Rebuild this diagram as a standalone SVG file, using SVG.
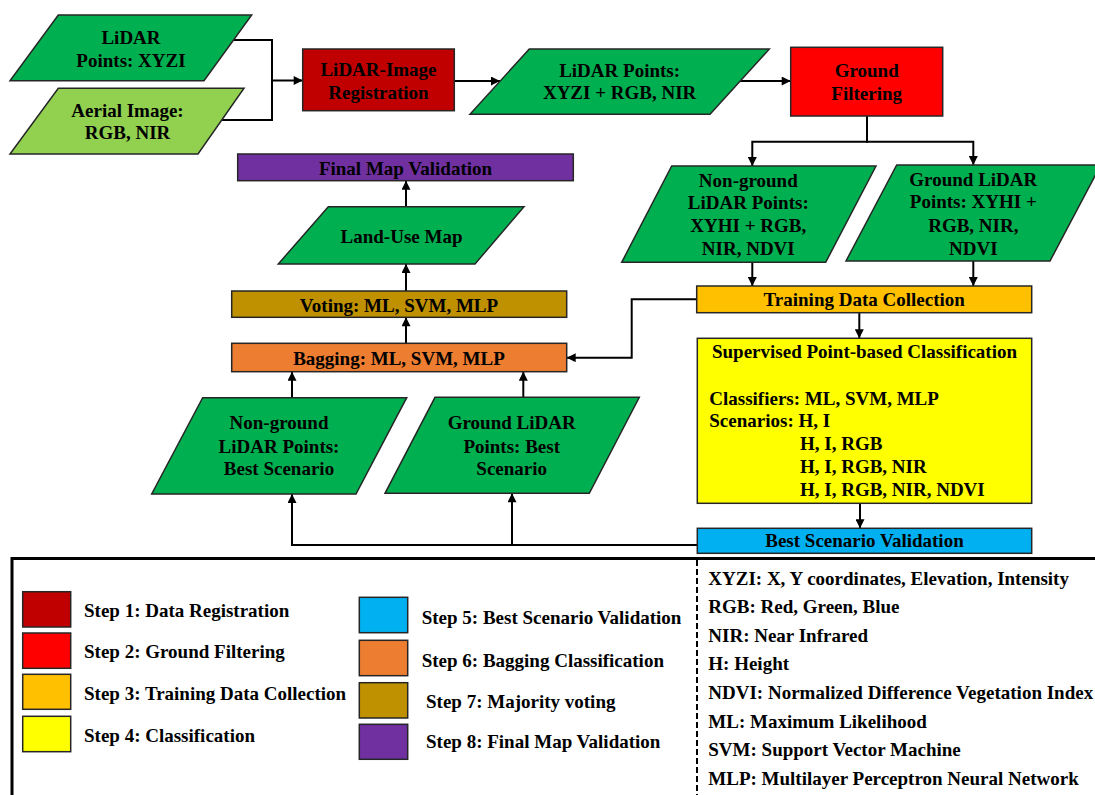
<svg xmlns="http://www.w3.org/2000/svg" width="1095" height="795" viewBox="0 0 1095 795">
<style>
.t{font-family:"Liberation Serif","Times New Roman",serif;font-weight:bold;font-size:19px;fill:#000}
.c{text-anchor:middle}
.s{stroke:#262626;stroke-width:1.5}
.ln{fill:none;stroke:#000;stroke-width:2}
.dg{fill:#00B050}.lg{fill:#92D050}.reg{fill:#C00000}.gf{fill:#FF0000}.tr{fill:#FFC000}
.cl{fill:#FFFF00}.bs{fill:#00B0F0}.bg{fill:#ED7D31}.vt{fill:#BF9000}.fm{fill:#7030A0}
</style>
<defs>
<marker id="ah" viewBox="0 0 10 10" refX="10" refY="5" markerWidth="10" markerHeight="9" markerUnits="userSpaceOnUse" orient="auto">
<path d="M0,0 L10,5 L0,10 z" fill="#000"/>
</marker>
</defs>
<rect width="1095" height="795" fill="#fff"/>

<g id="connectors">
<path class="ln" d="M233.5,40 H272 V120 H221.7"/>
<path class="ln" d="M272,80.5 H302.7" marker-end="url(#ah)"/>
<path class="ln" d="M454.3,81 H500" marker-end="url(#ah)"/>
<path class="ln" d="M740,81 H790.7" marker-end="url(#ah)"/>
<path class="ln" d="M867,116 V141.7 H752.3 V166" marker-end="url(#ah)"/>
<path class="ln" d="M866,141.7 H973.3 V165" marker-end="url(#ah)"/>
<path class="ln" d="M752.3,262.3 V286" marker-end="url(#ah)"/>
<path class="ln" d="M973.3,261 V286" marker-end="url(#ah)"/>
<path class="ln" d="M696.7,299.3 H631.7 V357.7 H566.7" marker-end="url(#ah)"/>
<path class="ln" d="M859.3,312.7 V338.3" marker-end="url(#ah)"/>
<path class="ln" d="M860,503.3 V528.3" marker-end="url(#ah)"/>
<path class="ln" d="M697.3,545 H292 V494" marker-end="url(#ah)"/>
<path class="ln" d="M512,545 V493.3" marker-end="url(#ah)"/>
<path class="ln" d="M292,397.7 V371.7" marker-end="url(#ah)"/>
<path class="ln" d="M523.3,397.3 V371.7" marker-end="url(#ah)"/>
<path class="ln" d="M406,343.3 V317.3" marker-end="url(#ah)"/>
<path class="ln" d="M406,291 V264" marker-end="url(#ah)"/>
<path class="ln" d="M406,206.7 V180.7" marker-end="url(#ah)"/>
</g>

<g id="lidar-xyzi">
<polygon class="dg s" points="58.3,15 251.7,15 204,80.7 10,80.7"/>
<text class="t c" x="131" y="44">LiDAR</text>
<text class="t c" x="131" y="66.7">Points: XYZI</text>
</g>
<g id="aerial-image">
<polygon class="lg s" points="58.3,88.3 244,88.3 198,154 10,154"/>
<text class="t c" x="127.5" y="117.3">Aerial Image:</text>
<text class="t c" x="127.5" y="139.3">RGB, NIR</text>
</g>
<g id="registration">
<rect class="reg s" x="302.7" y="49" width="151.6" height="61.7"/>
<text class="t c" x="378.5" y="76">LiDAR-Image</text>
<text class="t c" x="378.5" y="98.7">Registration</text>
</g>
<g id="lidar-rgb-nir">
<polygon class="dg s" points="529.3,49 769.3,49 710,114.3 470,114.3"/>
<text class="t c" x="619.6" y="76.7">LiDAR Points:</text>
<text class="t c" x="619.6" y="99.3">XYZI + RGB, NIR</text>
</g>
<g id="ground-filtering">
<rect class="gf s" x="790.7" y="47.3" width="152" height="68.7"/>
<text class="t c" x="866.7" y="77.3">Ground</text>
<text class="t c" x="866.7" y="100">Filtering</text>
</g>
<g id="nonground-points">
<polygon class="dg s" points="671.7,166 876,166 825.7,262.3 621.7,262.3"/>
<text class="t c" x="748.3" y="186.7">Non-ground</text>
<text class="t c" x="748.3" y="209.3">LiDAR Points:</text>
<text class="t c" x="748.3" y="232.3">XYHI + RGB,</text>
<text class="t c" x="748.3" y="255">NIR, NDVI</text>
</g>
<g id="ground-points">
<polygon class="dg s" points="896.7,165 1100.7,165 1050,261 846,261"/>
<text class="t c" x="973.3" y="185.7">Ground LiDAR</text>
<text class="t c" x="973.3" y="208.3">Points: XYHI +</text>
<text class="t c" x="973.3" y="231.7">RGB, NIR,</text>
<text class="t c" x="973.3" y="255">NDVI</text>
</g>
<g id="training">
<rect class="tr s" x="696.7" y="286" width="335" height="26.7"/>
<text class="t c" x="864.2" y="306">Training Data Collection</text>
</g>
<g id="classification">
<rect class="cl s" x="697.3" y="338.3" width="334.4" height="165"/>
<text class="t c" x="864.5" y="358.3">Supervised Point-based Classification</text>
<text class="t" x="709.3" y="405">Classifiers: ML, SVM, MLP</text>
<text class="t" x="709.3" y="427.3">Scenarios: H, I</text>
<text class="t" x="800" y="450">H, I, RGB</text>
<text class="t" x="800" y="473.3">H, I, RGB, NIR</text>
<text class="t" x="800" y="495.7">H, I, RGB, NIR, NDVI</text>
</g>
<g id="best-scenario">
<rect class="bs s" x="697.3" y="528.3" width="334.4" height="25"/>
<text class="t c" x="864.5" y="546.7">Best Scenario Validation</text>
</g>
<g id="final-map">
<rect class="fm s" x="237.7" y="154" width="335.6" height="26.7"/>
<text class="t c" x="405.5" y="174.5">Final Map Validation</text>
</g>
<g id="land-use">
<polygon class="dg s" points="328.3,206.7 524,206.7 475,264 278.3,264"/>
<text class="t c" x="401.5" y="242.7">Land-Use Map</text>
</g>
<g id="voting">
<rect class="vt s" x="231.7" y="291" width="335" height="26.3"/>
<text class="t c" x="399" y="311.7">Voting: ML, SVM, MLP</text>
</g>
<g id="bagging">
<rect class="bg s" x="231.7" y="343.3" width="335" height="28.4"/>
<text class="t c" x="399" y="365">Bagging: ML, SVM, MLP</text>
</g>
<g id="nonground-best">
<polygon class="dg s" points="202.7,397.7 406.7,397.7 356,494 151.7,494"/>
<text class="t c" x="279" y="429.3">Non-ground</text>
<text class="t c" x="279" y="452.7">LiDAR Points:</text>
<text class="t c" x="279" y="475">Best Scenario</text>
</g>
<g id="ground-best">
<polygon class="dg s" points="435,397.3 639.3,397.3 589.3,493.3 385,493.3"/>
<text class="t c" x="511.7" y="429.3">Ground LiDAR</text>
<text class="t c" x="511.7" y="452.7">Points: Best</text>
<text class="t c" x="511.7" y="475">Scenario</text>
</g>

<g id="legend">
<path d="M12,795 V558.5 H1095" fill="none" stroke="#000" stroke-width="3"/>
<path d="M697,560 V795" fill="none" stroke="#000" stroke-width="2" stroke-dasharray="6,3"/>
<rect class="reg s" x="22.7" y="591.7" width="48" height="35.3"/>
<rect class="gf s" x="22.7" y="633" width="48" height="35.3"/>
<rect class="tr s" x="22.7" y="674.3" width="48" height="35"/>
<rect class="cl s" x="22.7" y="716.3" width="48" height="35.4"/>
<text class="t" x="84" y="616.7">Step 1: Data Registration</text>
<text class="t" x="84" y="657.7">Step 2: Ground Filtering</text>
<text class="t" x="84" y="700.3">Step 3: Training Data Collection</text>
<text class="t" x="84" y="742.3">Step 4: Classification</text>
<rect class="bs s" x="359.3" y="597.3" width="48.4" height="35.4"/>
<rect class="bg s" x="359.3" y="640.3" width="48.4" height="35.4"/>
<rect class="vt s" x="359.3" y="682.7" width="48.4" height="35.3"/>
<rect class="fm s" x="359.3" y="724.3" width="48.4" height="35"/>
<text class="t" x="421.7" y="624">Step 5: Best Scenario Validation</text>
<text class="t" x="421.7" y="666.7">Step 6: Bagging Classification</text>
<text class="t" x="426" y="708.3">Step 7: Majority voting</text>
<text class="t" x="426" y="748.3">Step 8: Final Map Validation</text>
<text class="t" x="708.3" y="584.5">XYZI: X, Y coordinates, Elevation, Intensity</text>
<text class="t" x="708.3" y="613.2">RGB: Red, Green, Blue</text>
<text class="t" x="708.3" y="641.8">NIR: Near Infrared</text>
<text class="t" x="708.3" y="670.4">H: Height</text>
<text class="t" x="708.3" y="699">NDVI: Normalized Difference Vegetation Index</text>
<text class="t" x="708.3" y="727.6">ML: Maximum Likelihood</text>
<text class="t" x="708.3" y="756.2">SVM: Support Vector Machine</text>
<text class="t" x="708.3" y="784.8">MLP: Multilayer Perceptron Neural Network</text>
</g>
</svg>
